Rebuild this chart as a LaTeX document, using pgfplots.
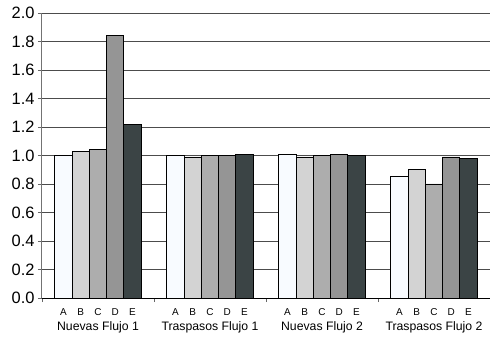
\documentclass[border=0pt]{standalone}
\usepackage{fontspec}
\setmainfont{Liberation Sans}
\usepackage{pgfplots}
\usepackage{pgfplotstable}
\pgfplotsset{compat=1.18}

\definecolor{serA}{HTML}{F8FBFF}
\definecolor{serB}{HTML}{D3D3D3}
\definecolor{serC}{HTML}{ADADAD}
\definecolor{serD}{HTML}{959595}
\definecolor{serE}{HTML}{3B4445}

% group centre, then one column per series A--E
\pgfplotstableread{
x   A    B    C    D    E
0.5 1.00 1.03 1.04 1.84 1.22
1.5 1.00 0.99 1.00 1.00 1.01
2.5 1.01 0.99 1.00 1.01 1.00
3.5 0.85 0.90 0.80 0.99 0.98
}\datatable

\begin{document}
\begin{tikzpicture}
\path[use as bounding box] (-42bp,-40bp) rectangle (448bp,298bp);
\begin{axis}[
  scale only axis, width=448bp, height=285bp,
  xmin=0, xmax=4, ymin=0, ymax=2,
  axis x line*=bottom, axis y line*=left,
  x axis line style={black, line width=0.9bp},
  y axis line style={black!55, line width=1bp},
  ybar, bar width=0.154,
  tick align=outside,
  major tick length=4bp, minor tick length=4bp,
  major x tick style={draw=none},
  minor x tick style={black!60, line width=0.8bp},
  ytick style={black!60, line width=0.8bp},
  ytick={0,0.2,...,2.01},
  ymajorgrids, grid style={black!70, line width=0.9bp},
  xtick={0.192,0.346,0.5,0.654,0.808,1.192,1.346,1.5,1.654,1.808,2.192,2.346,2.5,2.654,2.808,3.192,3.346,3.5,3.654,3.808},
  xticklabels={A,B,C,D,E,A,B,C,D,E,A,B,C,D,E,A,B,C,D,E},
  minor xtick={0,1,2,3,4},
  extra x ticks={0.5,1.5,2.5,3.5},
  extra x tick labels={Nuevas Flujo 1,Traspasos Flujo 1,Nuevas Flujo 2,Traspasos Flujo 2},
  extra x tick style={grid=none, xticklabel style={font=\fontsize{12.3}{14}\selectfont, yshift=-13bp}},
  xticklabel style={font=\fontsize{10}{12}\selectfont, yshift=-3bp},
  yticklabel style={font=\fontsize{16.5}{18}\selectfont, /pgf/number format/.cd, fixed, fixed zerofill, precision=1},
  /pgf/number format/assume math mode=true,
  every axis plot/.append style={draw=black, line width=0.8bp},
]
\addplot[fill=serA, bar shift=-0.308] table[x=x, y=A] {\datatable};
\addplot[fill=serB, bar shift=-0.154] table[x=x, y=B] {\datatable};
\addplot[fill=serC, bar shift=0]      table[x=x, y=C] {\datatable};
\addplot[fill=serD, bar shift=0.154]  table[x=x, y=D] {\datatable};
\addplot[fill=serE, bar shift=0.308]  table[x=x, y=E] {\datatable};
\end{axis}
\end{tikzpicture}
\end{document}
